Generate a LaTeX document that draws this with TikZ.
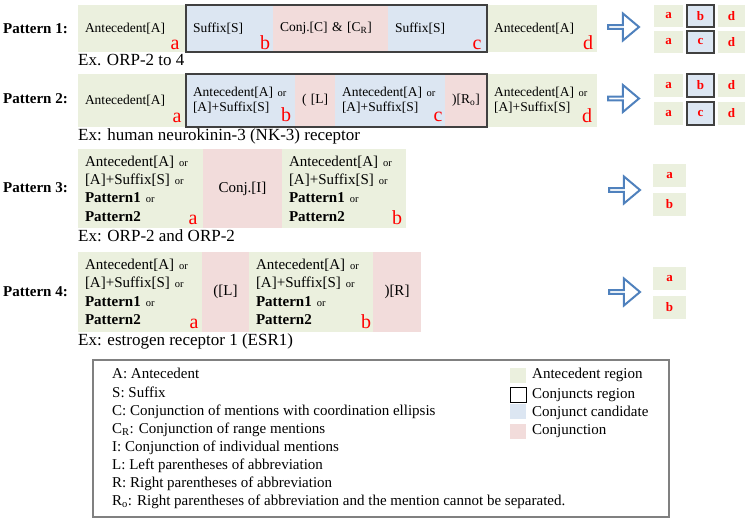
\documentclass[tikz,border=0pt]{standalone}
\usepackage{fontspec}
\setmainfont{Liberation Serif}
\usetikzlibrary{shapes.arrows}
\definecolor{antgreen}{RGB}{235,240,222}
\definecolor{candblue}{RGB}{220,230,242}
\definecolor{conjpink}{RGB}{242,220,219}
\definecolor{arrowblue}{RGB}{79,129,189}
\definecolor{edgegray}{RGB}{64,64,64}
\newcommand{\orw}{{\fontsize{10.5}{10.5}\selectfont or}}
\begin{document}
\begin{tikzpicture}[x=1pt,y=-1pt,
  every node/.style={font=\fontsize{13.5}{15}\selectfont},
  ant/.style={fill=antgreen,inner xsep=7pt,inner ysep=0pt,align=left},
  cand/.style={fill=candblue,inner xsep=7pt,inner ysep=0pt,align=left},
  conj/.style={fill=conjpink,inner xsep=7pt,inner ysep=0pt,align=left},
  big/.style={font=\fontsize{15}{18.3}\selectfont},
  region/.style={draw=edgegray,line width=1.5pt},
  lab/.style={text=red,font=\fontsize{20}{20}\selectfont,inner sep=0pt,anchor=base},
  ex/.style={font=\fontsize{17}{17}\selectfont,inner sep=0pt,anchor=base west},
  pat/.style={font=\fontsize{15}{15}\selectfont\bfseries,inner sep=0pt,anchor=base west},
  res/.style={fill=antgreen,inner sep=0pt,text=red,font=\fontsize{13}{13}\selectfont\bfseries},
  bigarrow/.style={single arrow,draw=arrowblue,fill=white,line width=2pt,inner sep=0pt,
    minimum height=31pt,minimum width=27pt,single arrow head extend=6pt,
    single arrow tip angle=80,anchor=tail},
  leg/.style={font=\fontsize{15}{15}\selectfont,inner sep=0pt,anchor=base west},
  swatch/.style={minimum width=16pt,minimum height=15pt,inner sep=0pt}]
\useasboundingbox (0,0) rectangle (750,521);
% pattern 1
\node[pat] (p1) at (3,34) {Pattern 1:};
\node[ant,text width=94pt,minimum height=47pt] (11) at (132,28.5) {Antecedent[A]};
\node[cand,text width=73pt,minimum height=47pt] (12) at (229.5,28.5) {Suffix[S]};
\node[conj,text width=101pt,minimum height=47pt] (13) at (330.5,28.5) {Conj.[C] \& [C\textsubscript{R}]};
\node[cand,text width=85pt,minimum height=47pt] (14) at (437.5,28.5) {Suffix[S]};
\node[ant,text width=96pt,minimum height=47pt] (15) at (542,28.5) {Antecedent[A]};
\draw[region] (12.north west) rectangle (14.south east);
\node[lab] (a1) at (175,50) {a};
\node[lab] (b1) at (265,50) {b};
\node[lab] (c1) at (477,50) {c};
\node[lab] (d1) at (588,50) {d};
\node[ex] (e1) at (78,66) {Ex. ORP-2 to 4};
\node[bigarrow] (f1) at (607,27) {};
\node[res,minimum width=29pt,minimum height=22pt] (g1) at (668.5,16) {a};
\node[res,fill=candblue,region,minimum width=27pt,minimum height=22pt] (h1) at (700.5,16) {b};
\node[res,minimum width=27pt,minimum height=22pt] (i1) at (731.5,16) {d};
\node[res,minimum width=29pt,minimum height=22pt] (g2) at (668.5,42) {a};
\node[res,fill=candblue,region,minimum width=27pt,minimum height=22pt] (h2) at (700.5,42) {c};
\node[res,minimum width=27pt,minimum height=22pt] (i2) at (731.5,42) {d};
% pattern 2
\node[pat] (p2) at (3,104) {Pattern 2:};
\node[ant,text width=94pt,minimum height=53pt] (21) at (132,100.5) {Antecedent[A]};
\node[cand,text width=95pt,minimum height=53pt] (22) at (240.5,100.5) {Antecedent[A] \orw\\{}[A]+Suffix[S]};
\node[conj,align=center,text width=26pt,minimum height=53pt] (23) at (315,100.5) {(~[L]};
\node[cand,text width=96pt,minimum height=53pt] (24) at (390,100.5) {Antecedent[A] \orw\\{}[A]+Suffix[S]};
\node[conj,align=center,text width=28pt,minimum height=53pt] (25) at (466,100.5) {)[R\textsubscript{o}]};
\node[ant,text width=96pt,minimum height=53pt] (26) at (542,100.5) {Antecedent[A] \orw\\{}[A]+Suffix[S]};
\draw[region] (22.north west) rectangle (25.south east);
\node[lab] (a2) at (177,123) {a};
\node[lab] (b2) at (286,122) {b};
\node[lab] (c2) at (438,122) {c};
\node[lab] (d2) at (587,123) {d};
\node[ex] (e2) at (78,141) {Ex: human neurokinin-3 (NK-3) receptor};
\node[bigarrow] (f2) at (607,98.5) {};
\node[res,minimum width=29pt,minimum height=23pt] (g3) at (668.5,85.5) {a};
\node[res,fill=candblue,region,minimum width=27pt,minimum height=23pt] (h3) at (700.5,85.5) {b};
\node[res,minimum width=27pt,minimum height=23pt] (i3) at (731.5,85.5) {d};
\node[res,minimum width=29pt,minimum height=23pt] (g4) at (668.5,113.5) {a};
\node[res,fill=candblue,region,minimum width=27pt,minimum height=23pt] (h4) at (700.5,113.5) {c};
\node[res,minimum width=27pt,minimum height=23pt] (i4) at (731.5,113.5) {d};
% pattern 3
\node[pat] (p3) at (3,193) {Pattern 3:};
\node[ant,big,text width=111pt,minimum height=79pt] (31) at (140.5,188.5) {Antecedent[A] \orw\\{}[A]+Suffix[S] \orw\\\textbf{Pattern1} \orw\\\textbf{Pattern2}};
\node[conj,big,align=center,text width=65pt,minimum height=79pt] (32) at (242.5,188.5) {Conj.[I]};
\node[ant,big,text width=110pt,minimum height=79pt] (33) at (344,188.5) {Antecedent[A] \orw\\{}[A]+Suffix[S] \orw\\\textbf{Pattern1} \orw\\\textbf{Pattern2}};
\node[lab] (a3) at (193,225) {a};
\node[lab] (b3) at (397,225) {b};
\node[ex] (e3) at (78,242) {Ex: ORP-2 and ORP-2};
\node[bigarrow] (f3) at (608,190) {};
\node[res,minimum width=33pt,minimum height=23pt] (g5) at (669.5,175.5) {a};
\node[res,minimum width=33pt,minimum height=23pt] (g6) at (669.5,204.5) {b};
% pattern 4
\node[pat] (p4) at (3,297) {Pattern 4:};
\node[ant,big,text width=110pt,minimum height=80pt] (41) at (140,292) {Antecedent[A] \orw\\{}[A]+Suffix[S] \orw\\\textbf{Pattern1} \orw\\\textbf{Pattern2}};
\node[conj,big,align=center,text width=33pt,minimum height=80pt] (42) at (225.5,292) {([L]};
\node[ant,big,text width=110pt,minimum height=80pt] (43) at (311,292) {Antecedent[A] \orw\\{}[A]+Suffix[S] \orw\\\textbf{Pattern1} \orw\\\textbf{Pattern2}};
\node[conj,big,align=center,text width=34pt,minimum height=80pt] (44) at (397,292) {)[R]};
\node[lab] (a4) at (194,329) {a};
\node[lab] (b4) at (366,329) {b};
\node[ex] (e4) at (78,346) {Ex: estrogen receptor 1 (ESR1)};
\node[bigarrow] (f4) at (608,292) {};
\node[res,minimum width=33pt,minimum height=23pt] (g7) at (669.5,278.5) {a};
\node[res,minimum width=33pt,minimum height=23pt] (g8) at (669.5,307.5) {b};
% legend
\draw[draw={rgb,255:red,128;green,128;blue,128},line width=2pt] (93,360) rectangle (669,517);
\node[leg] (l1) at (112,379) {A: Antecedent};
\node[leg] (l2) at (112,397.1) {S: Suffix};
\node[leg] (l3) at (112,415.2) {C: Conjunction of mentions with coordination ellipsis};
\node[leg] (l4) at (112,433.3) {C\textsubscript{R}: Conjunction of range mentions};
\node[leg] (l5) at (112,451.4) {I: Conjunction of individual mentions};
\node[leg] (l6) at (112,469.5) {L: Left parentheses of abbreviation};
\node[leg] (l7) at (112,487.6) {R: Right parentheses of abbreviation};
\node[leg] (l8) at (112,505.7) {R\textsubscript{o}: Right parentheses of abbreviation and the mention cannot be separated.};
\node[swatch,fill=antgreen] (s1) at (518,375.5) {};
\node[swatch,draw=black,line width=0.8pt] (s2) at (518,395) {};
\node[swatch,fill=candblue] (s3) at (518,411.5) {};
\node[swatch,fill=conjpink] (s4) at (518,431) {};
\node[leg] (t1) at (532,379) {Antecedent region};
\node[leg] (t2) at (532,399) {Conjuncts region};
\node[leg] (t3) at (532,416) {Conjunct candidate};
\node[leg] (t4) at (532,435) {Conjunction};
\end{tikzpicture}
\end{document}
